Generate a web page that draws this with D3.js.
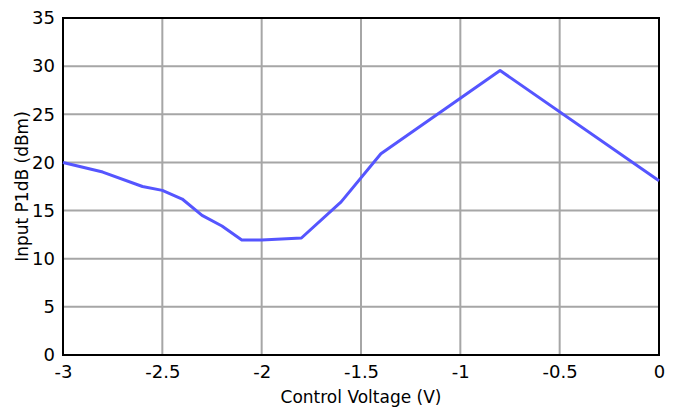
<!DOCTYPE html>
<html>
<head>
<meta charset="utf-8">
<script src="https://cdn.jsdelivr.net/npm/d3@7"></script>
<style>
  body { margin: 0; background: #fff; }
  text { font-family: "DejaVu Sans", Verdana, sans-serif; }
</style>
</head>
<body>
<div id="chart"></div>
<script>
// control voltage (V) and input P1dB (dBm)
const voltage = [-3, -2.8, -2.6, -2.5, -2.4, -2.3, -2.2, -2.1, -2.0, -1.8, -1.6, -1.4, -0.8, 0];
const p1db    = [20, 19.0, 17.5, 17.1, 16.2, 14.5, 13.4, 11.95, 11.95, 12.15, 15.9, 20.9, 29.55, 18.1];
const xTicks = [-3, -2.5, -2, -1.5, -1, -0.5, 0];
const yTicks = [0, 5, 10, 15, 20, 25, 30, 35];

const width = 678, height = 410;
const margin = {top: 18, right: 19, bottom: 55, left: 63};

const svg = d3.select("#chart")
    .append("svg")
    .attr("width", width)
    .attr("height", height);

const xScale = d3.scaleLinear()
    .domain([-3, 0])
    .range([margin.left, width - margin.right]);

const yScale = d3.scaleLinear()
    .domain([0, 35])
    .range([height - margin.bottom, margin.top]);

// grid
svg.append("g")
    .selectAll("line")
    .data(xTicks)
    .join("line")
    .attr("x1", d => xScale(d))
    .attr("x2", d => xScale(d))
    .attr("y1", yScale(0))
    .attr("y2", yScale(35))
    .attr("stroke", "#a6a6a6")
    .attr("stroke-width", 2);

svg.append("g")
    .selectAll("line")
    .data(yTicks)
    .join("line")
    .attr("x1", xScale(-3))
    .attr("x2", xScale(0))
    .attr("y1", d => yScale(d))
    .attr("y2", d => yScale(d))
    .attr("stroke", "#a6a6a6")
    .attr("stroke-width", 2);

// frame
svg.append("rect")
    .attr("x", xScale(-3))
    .attr("y", yScale(35))
    .attr("width", xScale(0) - xScale(-3))
    .attr("height", yScale(0) - yScale(35))
    .attr("fill", "none")
    .attr("stroke", "black")
    .attr("stroke-width", 2);

// axes (labels only)
const xAxis = svg.append("g")
    .attr("transform", `translate(0,${yScale(0)})`)
    .call(d3.axisBottom(xScale).tickValues(xTicks).tickSize(0).tickPadding(10).tickFormat(d => String(d)));
xAxis.select(".domain").remove();
xAxis.selectAll("text").attr("font-size", 18).attr("fill", "black")
    .style("font-family", "'DejaVu Sans', Verdana, sans-serif");

const yAxis = svg.append("g")
    .attr("transform", `translate(${xScale(-3)},0)`)
    .call(d3.axisLeft(yScale).tickValues(yTicks).tickSize(0).tickPadding(8).tickFormat(d => String(d)));
yAxis.select(".domain").remove();
yAxis.selectAll("text").attr("font-size", 18).attr("fill", "black")
    .style("font-family", "'DejaVu Sans', Verdana, sans-serif");

// axis labels
svg.append("text")
    .attr("x", (xScale(-3) + xScale(0)) / 2)
    .attr("y", 403)
    .attr("text-anchor", "middle")
    .attr("font-size", 17)
    .text("Control Voltage (V)");

svg.append("text")
    .attr("transform", "rotate(-90)")
    .attr("x", -(yScale(0) + yScale(35)) / 2)
    .attr("y", 28)
    .attr("text-anchor", "middle")
    .attr("font-size", 17)
    .text("Input P1dB (dBm)");

// line
const line = d3.line()
    .x((d, i) => xScale(voltage[i]))
    .y(d => yScale(d));

svg.append("path")
    .datum(p1db)
    .attr("d", line)
    .attr("fill", "none")
    .attr("stroke", "#5555ff")
    .attr("stroke-width", 3)
    .attr("stroke-linejoin", "round");
</script>
</body>
</html>
